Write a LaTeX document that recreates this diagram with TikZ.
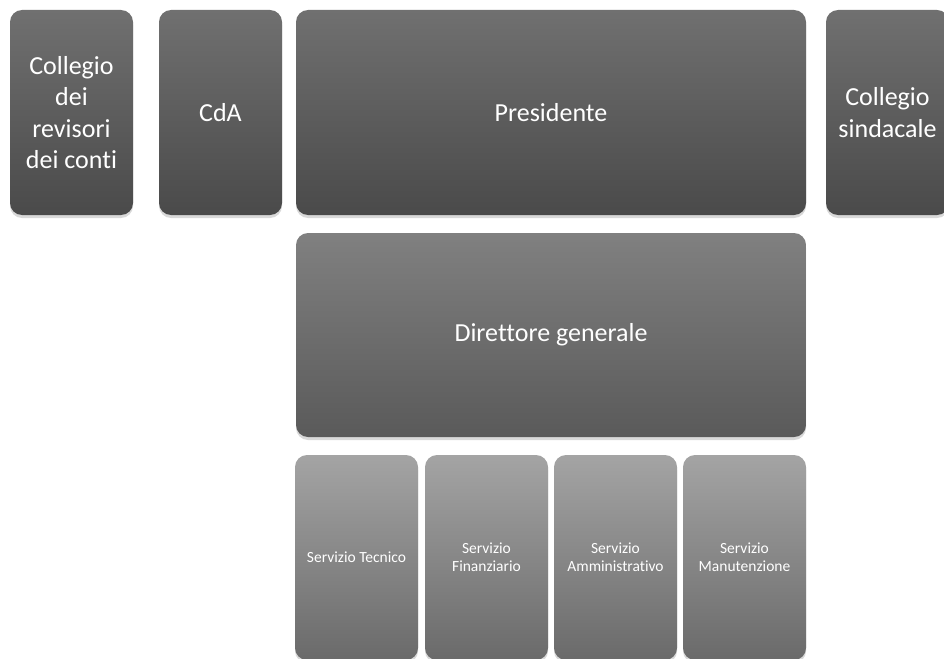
\documentclass[tikz,border=0pt]{standalone}
\usepackage{fontspec}
\setmainfont{Carlito}[Ligatures=NoCommon]
\usetikzlibrary{shadows}

\definecolor{altoA}{HTML}{707070}
\definecolor{bassoA}{HTML}{4A4A4A}
\definecolor{altoB}{HTML}{808080}
\definecolor{bassoB}{HTML}{5A5A5A}
\definecolor{altoC}{HTML}{A4A4A4}
\definecolor{bassoC}{HTML}{6A6A6A}

\tikzset{
	organo/.style={rounded corners=12pt, inner sep=0pt, align=center, text=white,
		drop shadow={shadow xshift=0pt, shadow yshift=-3pt, opacity=0.3},
		font=\fontsize{26}{31.5}\selectfont},
	vertice/.style={organo, top color=altoA, bottom color=bassoA, minimum height=205pt},
	direzione/.style={organo, top color=altoB, bottom color=bassoB},
	servizio/.style={organo, top color=altoC, bottom color=bassoC, minimum width=123pt, minimum height=205pt,
		font=\fontsize{15.5}{18}\selectfont}
}

\begin{document}
\begin{tikzpicture}[x=1pt,y=-1pt]
	\useasboundingbox (0,0) rectangle (944,658);
	% organi di vertice
	\node[vertice, minimum width=123pt] (revisori) at (71.5,112.5) {Collegio\\dei\\revisori\\dei conti};
	\node[vertice, minimum width=123pt] (cda) at (220.5,112.5) {CdA};
	\node[vertice, minimum width=510pt] (presidente) at (551,112.5) {Presidente};
	\node[vertice, minimum width=123pt] (sindacale) at (887.5,112.5) {Collegio\\sindacale};
	% direzione
	\node[direzione, minimum width=510pt, minimum height=204pt] (direttore) at (551,335) {Direttore generale};
	% servizi
	\foreach \x/\nome/\testo in {356.5/tecnico/Servizio Tecnico, 486.5/finanziario/Servizio\\Finanziario,
		615.5/amministrativo/Servizio\\Amministrativo, 744.5/manutenzione/Servizio\\Manutenzione}
		\node[servizio] (\nome) at (\x,557.5) {\testo};
\end{tikzpicture}
\end{document}
